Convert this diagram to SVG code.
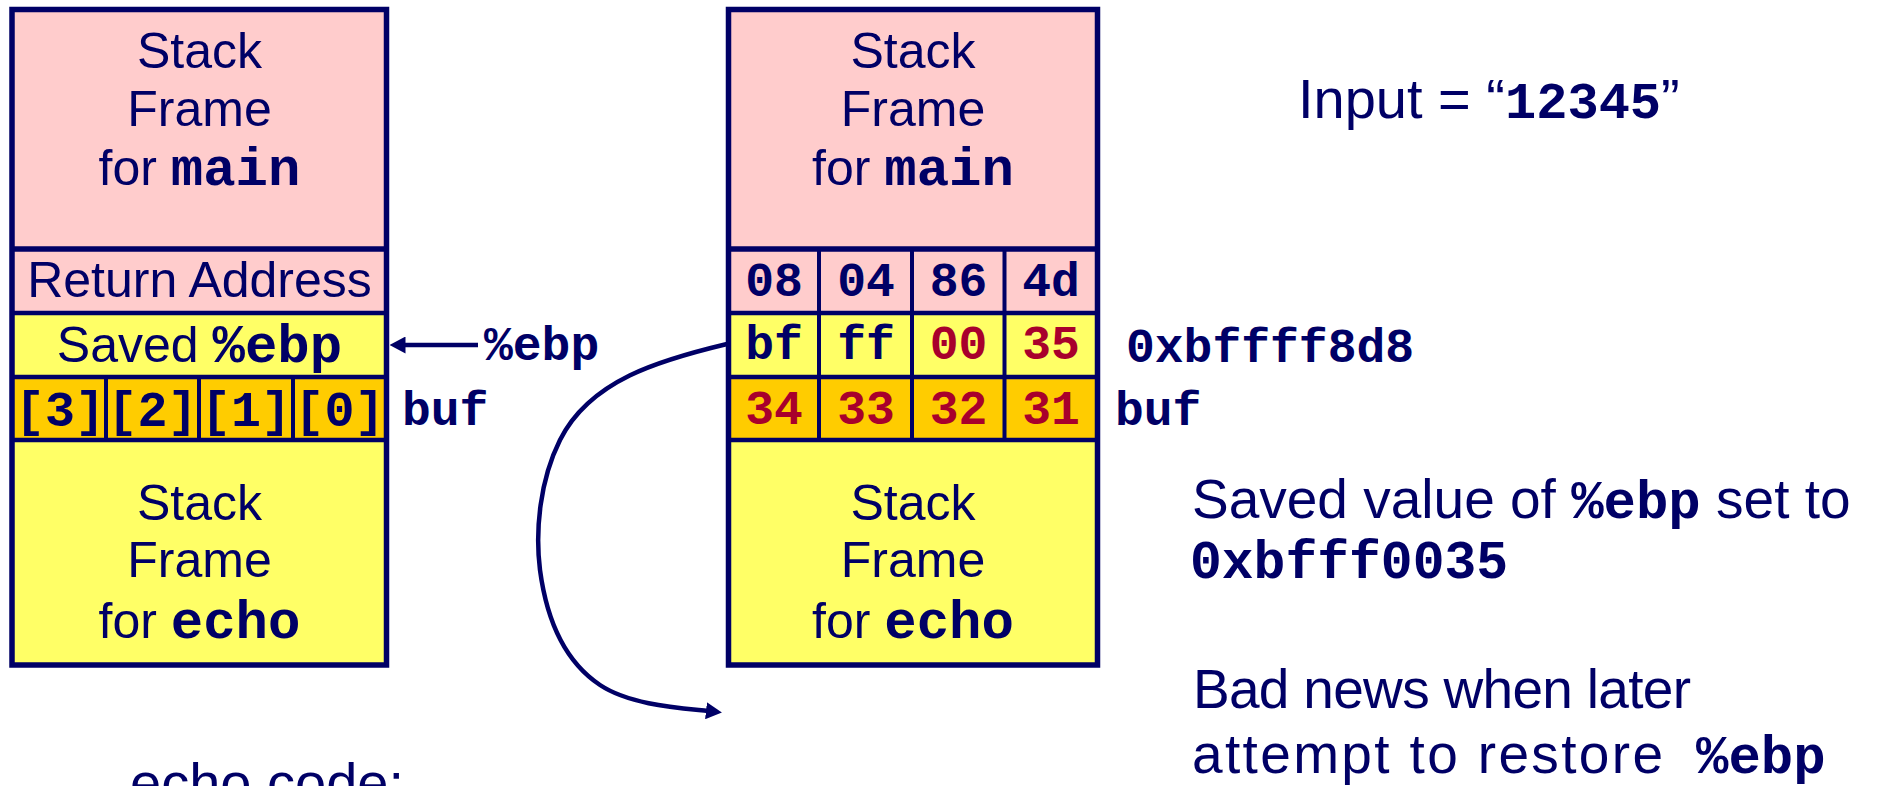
<svg xmlns="http://www.w3.org/2000/svg" width="1881" height="786" viewBox="0 0 1881 786">
<style>
.t{font-family:"Liberation Sans",Arial,sans-serif;fill:#000066}
.m{font-family:"Liberation Mono","Courier New",monospace;font-weight:bold;fill:#000066}
.red{fill:#A8002C}
.c{text-anchor:middle}
.pink{fill:#FFCCCC}
.yel{fill:#FFFF66}
.org{fill:#FFCC00}
.frame{fill:none;stroke:#000066;stroke-width:5.5}
.div{stroke:#000066;stroke-width:4.5}
.cell{stroke:#000066;stroke-width:4}
.conn{fill:none;stroke:#000066;stroke-width:4.5}
</style>
<defs>
<marker id="ah" markerUnits="userSpaceOnUse" viewBox="0 0 16 17" markerWidth="16" markerHeight="17" refX="2" refY="8.5" orient="auto">
<path d="M0,0 L16,8.5 L0,17 z" fill="#000066"/>
</marker>
</defs>
<rect width="1881" height="786" fill="#FFFFFF"/>

<g id="left-stack">
<rect class="pink" x="12" y="9.5" width="374.5" height="239.5"/>
<rect class="pink" x="12" y="249" width="374.5" height="64"/>
<rect class="yel" x="12" y="313" width="374.5" height="64"/>
<rect class="org" x="12" y="377" width="374.5" height="63"/>
<rect class="yel" x="12" y="440" width="374.5" height="225"/>
<line class="div" x1="12" y1="249" x2="386.5" y2="249" style="stroke-width:5.5"/>
<line class="div" x1="12" y1="313" x2="386.5" y2="313"/>
<line class="div" x1="12" y1="377" x2="386.5" y2="377"/>
<line class="div" x1="12" y1="440" x2="386.5" y2="440"/>
<line class="cell" x1="106" y1="377" x2="106" y2="440"/>
<line class="cell" x1="199" y1="377" x2="199" y2="440"/>
<line class="cell" x1="293" y1="377" x2="293" y2="440"/>
<rect class="frame" x="12" y="9.5" width="374.5" height="655.5"/>
<text class="t c" x="199.5" y="68" font-size="50">Stack</text>
<text class="t c" x="199.5" y="126" font-size="50">Frame</text>
<text class="t c" x="199.5" y="185" font-size="50">for <tspan class="m" font-size="54">main</tspan></text>
<text class="t c" x="199.5" y="297" font-size="50">Return Address</text>
<text class="t c" x="199.5" y="362" font-size="50">Saved <tspan class="m" font-size="54">%ebp</tspan></text>
<text class="m c" x="60" y="426" font-size="50">[3]</text>
<text class="m c" x="152.5" y="426" font-size="50">[2]</text>
<text class="m c" x="246" y="426" font-size="50">[1]</text>
<text class="m c" x="339.5" y="426" font-size="50">[0]</text>
<text class="t c" x="199.5" y="520" font-size="50">Stack</text>
<text class="t c" x="199.5" y="577" font-size="50">Frame</text>
<text class="t c" x="199.5" y="638" font-size="50">for <tspan class="m" font-size="54">echo</tspan></text>
</g>

<g id="right-stack">
<rect class="pink" x="728.5" y="9.5" width="369" height="239.5"/>
<rect class="pink" x="728.5" y="249" width="369" height="64"/>
<rect class="yel" x="728.5" y="313" width="369" height="64"/>
<rect class="org" x="728.5" y="377" width="369" height="63"/>
<rect class="yel" x="728.5" y="440" width="369" height="225"/>
<line class="div" x1="728.5" y1="249" x2="1097.5" y2="249" style="stroke-width:5.5"/>
<line class="div" x1="728.5" y1="313" x2="1097.5" y2="313"/>
<line class="div" x1="728.5" y1="377" x2="1097.5" y2="377"/>
<line class="div" x1="728.5" y1="440" x2="1097.5" y2="440"/>
<line class="cell" x1="819" y1="249" x2="819" y2="440"/>
<line class="cell" x1="912" y1="249" x2="912" y2="440"/>
<line class="cell" x1="1004.5" y1="249" x2="1004.5" y2="440"/>
<rect class="frame" x="728.5" y="9.5" width="369" height="655.5"/>
<text class="t c" x="913" y="68" font-size="50">Stack</text>
<text class="t c" x="913" y="126" font-size="50">Frame</text>
<text class="t c" x="913" y="185" font-size="50">for <tspan class="m" font-size="54">main</tspan></text>
<text class="m c" x="774" y="295.5" font-size="48">08</text>
<text class="m c" x="866" y="295.5" font-size="48">04</text>
<text class="m c" x="958.5" y="295.5" font-size="48">86</text>
<text class="m c" x="1051" y="295.5" font-size="48">4d</text>
<text class="m c" x="774" y="358.5" font-size="48">bf</text>
<text class="m c" x="866" y="358.5" font-size="48">ff</text>
<text class="m c red" x="958.5" y="358.5" font-size="48">00</text>
<text class="m c red" x="1051" y="358.5" font-size="48">35</text>
<text class="m c red" x="774" y="423.5" font-size="48">34</text>
<text class="m c red" x="866" y="423.5" font-size="48">33</text>
<text class="m c red" x="958.5" y="423.5" font-size="48">32</text>
<text class="m c red" x="1051" y="423.5" font-size="48">31</text>
<text class="t c" x="913" y="520" font-size="50">Stack</text>
<text class="t c" x="913" y="577" font-size="50">Frame</text>
<text class="t c" x="913" y="638" font-size="50">for <tspan class="m" font-size="54">echo</tspan></text>
</g>

<g id="labels">
<text class="m" x="484" y="360" font-size="48">%ebp</text>
<text class="m" x="402" y="425" font-size="48">buf</text>
<text class="m" x="1126" y="361.5" font-size="48">0xbffff8d8</text>
<text class="m" x="1115" y="425" font-size="48">buf</text>
<text class="t" x="1298" y="118" font-size="56">Input = “<tspan class="m" font-size="52">12345</tspan>”</text>
<text class="t" x="1192" y="518" font-size="55">Saved value of <tspan class="m" font-size="54">%ebp</tspan> set to</text>
<text class="m" x="1190" y="578" font-size="53">0xbfff0035</text>
<text class="t" x="1193" y="708" font-size="55" textLength="498" lengthAdjust="spacing">Bad news when later</text>
<text class="t" x="1192" y="773" font-size="55" textLength="471" lengthAdjust="spacing">attempt to restore</text>
<text class="m" x="1696" y="773" font-size="54">%ebp</text>
<text class="t" x="130" y="802" font-size="56">echo code:</text>
</g>

<g id="connectors">
<path class="conn" d="M478,345 L403.5,345" marker-end="url(#ah)"/>
<path class="conn" d="M727,344 C660,360 590,380 560,440 C540,480 535,530 540,570 C548,630 570,665 600,685 C630,705 680,708 708,711" marker-end="url(#ah)"/>
</g>
</svg>
